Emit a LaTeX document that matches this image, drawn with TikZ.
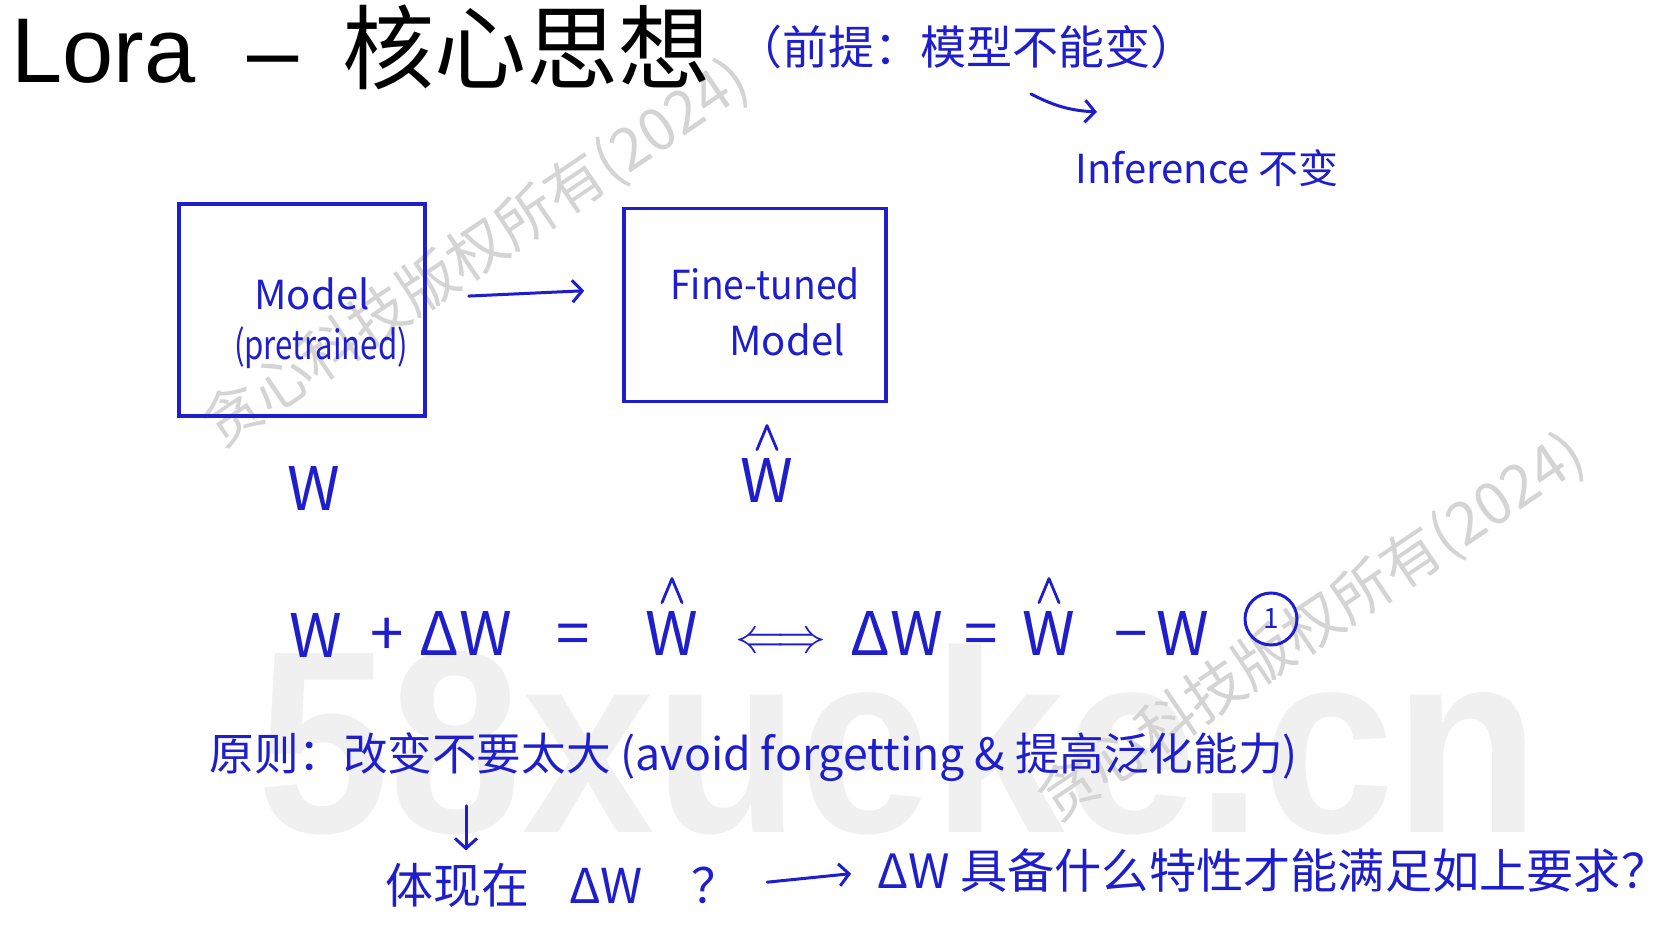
\documentclass[tikz,border=0pt]{standalone}
\usepackage{fontspec}
\setmainfont{Liberation Sans}
\newfontfamily\cjk{Noto Sans CJK SC}
\usetikzlibrary{arrows.meta}
\definecolor{ink}{RGB}{30,30,205}
\definecolor{wm}{RGB}{212,212,212}
\definecolor{wmbig}{RGB}{240,240,240}
\begin{document}
\begin{tikzpicture}[x=0.5pt,y=-0.5pt,
  hand/.style={draw=ink, line width=1.5pt, line cap=round, line join=round},
  handtext/.style={text=ink, font=\cjk\fontsize{22}{26}\selectfont, inner sep=0pt},
  boxtext/.style={handtext, font=\cjk\fontsize{20}{24}\selectfont},
  eqtext/.style={text=ink, font=\cjk\fontsize{30}{30}\selectfont, inner sep=0pt, anchor=base},
  box/.style={draw=ink, line width=1.8pt, rectangle, inner sep=0pt},
  arr/.style={hand, -{Straight Barb[length=5pt,width=11pt,line width=1.5pt]}},
  wmark/.style={text=wm, font=\cjk\fontsize{29.5}{30}\selectfont, rotate=34, inner sep=0pt},
  hat/.style={hand, line width=1.4pt}]
\fill[white] (0,0) rectangle (1678,926);
\useasboundingbox (0,0) rectangle (1678,926);
% watermarks
\node[font=\bfseries\fontsize{130}{130}\selectfont, text=wmbig, anchor=base, xscale=0.915, inner sep=0pt] (site) at (899,832) {58xueke.cn};
\node[wmark] (wm1) at (476,254) {贪心科技版权所有(2024)};
\node[wmark] (wm2) at (1312,628) {贪心科技版权所有(2024)};
% title
\node[anchor=base west, inner sep=0pt, font=\fontsize{46}{50}\selectfont] (title) at (11,83) {Lora\hspace{26pt}–\hspace{22pt}{\cjk 核心思想}};
% premise
\node[handtext, font=\cjk\fontsize{23}{26}\selectfont] (premise) at (966,47) {（前提：模型不能变）};
\node[handtext, font=\cjk\fontsize{20}{24}\selectfont] (inf) at (1207,168) {Inference 不变};
\coordinate (ps) at (1031,94);
\coordinate (pe) at (1097,112);
\draw[arr] (ps) to[bend right=12] (pe);
% boxes
\node[box, minimum width=123pt, minimum height=106pt] (pre) at (302,310) {};
\node[box, minimum width=131pt, minimum height=96.5pt] (ft) at (755,305) {};
\node[boxtext] (pret1) at (312,294) {Model};
\node[boxtext, xscale=0.78] (pret2) at (321,348) {(pretrained)};
\node[boxtext, xscale=0.93] (ft1) at (765,284) {Fine-tuned};
\node[boxtext] (ft2) at (787,340) {Model};
\draw[arr, shorten <=21pt, shorten >=19pt] ([yshift=6pt]pre.east) -- ([yshift=8pt]ft.west);
% W labels
\node[eqtext] (w) at (314,510) {W};
\node[eqtext] (wh) at (767,502) {W};
\draw[hat] ([xshift=-5pt,yshift=4pt]wh.north) -- ([yshift=16pt]wh.north) -- ([xshift=5pt,yshift=4pt]wh.north);
% equation
\node[eqtext] (e1) at (316,657) {W};
\node[eqtext] (e2) at (387,655) {+};
\node[eqtext] (e3) at (466,655) {ΔW};
\node[eqtext] (e4) at (573,655) {=};
\node[eqtext] (e5) at (672,655) {W};
\draw[hat] ([xshift=-5pt,yshift=4pt]e5.north) -- ([yshift=16pt]e5.north) -- ([xshift=5pt,yshift=4pt]e5.north);
\node[eqtext, font=\fontsize{30}{30}\selectfont] (e6) at (781,652) {$\Longleftrightarrow$};
\node[eqtext] (e7) at (897,655) {ΔW};
\node[eqtext] (e8) at (981,655) {=};
\node[eqtext] (e9) at (1049,655) {W};
\draw[hat] ([xshift=-5pt,yshift=4pt]e9.north) -- ([yshift=16pt]e9.north) -- ([xshift=5pt,yshift=4pt]e9.north);
\node[eqtext] (e10) at (1131,655) {−};
\node[eqtext] (e11) at (1183,655) {W};
\node[draw=ink, line width=1.5pt, circle, minimum size=26pt, inner sep=0pt, text=ink, font=\cjk\fontsize{14}{14}\selectfont] (e12) at (1271,619) {1};
% principle
\node[handtext, font=\cjk\fontsize{22.3}{26}\selectfont, anchor=west] (princ) at (209,757) {原则：改变不要太大 (avoid forgetting \& 提高泛化能力)};
\node[handtext, font=\cjk\fontsize{24}{26}\selectfont, anchor=west] (refl) at (385,885) {体现在\hspace{20pt}ΔW\hspace{24pt}？};
\node[handtext, font=\cjk\fontsize{23.6}{26}\selectfont, anchor=west] (props) at (877,871) {ΔW 具备什么特性才能满足如上要求？};
\coordinate (dx) at (466,0);
\draw[arr, shorten <=12pt, shorten >=6pt] (princ.south -| dx) -- (refl.north -| dx);
\draw[arr, shorten <=14pt, shorten >=13pt] (refl.east) -- (props.west);
\end{tikzpicture}
\end{document}
